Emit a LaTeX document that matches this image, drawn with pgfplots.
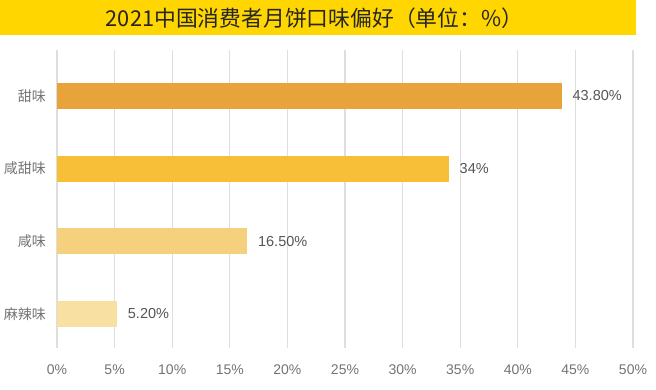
\documentclass[border=0pt]{standalone}
\usepackage{pgfplots}
\pgfplotsset{compat=1.18}
\usepackage{fontspec}
\setmainfont{Liberation Sans}
\newfontfamily\cjk{Noto Sans CJK SC}
\definecolor{c1}{RGB}{232,163,58}
\definecolor{c2}{RGB}{247,190,55}
\definecolor{c3}{RGB}{245,208,125}
\definecolor{c4}{RGB}{248,223,162}
\definecolor{titlebar}{RGB}{255,214,0}
\definecolor{gridc}{RGB}{222,222,222}
\definecolor{tickc}{RGB}{115,115,115}
\definecolor{valc}{RGB}{85,85,85}
\begin{document}
\begin{tikzpicture}
\fill[titlebar] (0pt,354pt) rectangle (636pt,389pt);
\node[text=black!85, font=\cjk\fontsize{21.8}{25}\selectfont] at (314.5pt,370.5pt) {2021中国消费者月饼口味偏好（单位：\%）};
\begin{axis}[
  at={(57pt,41pt)}, anchor=south west,
  scale only axis, width=576pt, height=298pt,
  xbar, bar width=26pt,
  xmin=0, xmax=50, ymin=-0.468, ymax=3.633,
  axis line style={draw=none},
  major tick length=0pt,
  xmajorgrids, grid style={gridc, line width=1.3pt},
  xtick={0,5,...,50},
  xticklabels={0\%,5\%,10\%,15\%,20\%,25\%,30\%,35\%,40\%,45\%,50\%},
  xticklabel style={text=tickc, font=\fontsize{14}{16}\selectfont, yshift=-13pt},
  ytick={0,1,2,3},
  yticklabels={麻辣味,咸味,咸甜味,甜味},
  yticklabel style={text=tickc, font=\cjk\fontsize{14}{16}\selectfont, xshift=-7.5pt},
  /pgf/number format/assume math mode=true,
  nodes near coords={\pgfmathprintnumber[fixed,fixed zerofill,precision=2]{\pgfplotspointmeta}\%},
  nodes near coords style={text=valc, font=\fontsize{14.5}{16}\selectfont, anchor=west, xshift=7.5pt},
  point meta=x,
  clip=false,
]
\addplot[fill=c1, draw=none, bar shift=0pt] coordinates {(43.8,3)};
\addplot[fill=c2, draw=none, bar shift=0pt, nodes near coords={\pgfmathprintnumber[fixed,precision=0]{\pgfplotspointmeta}\%}] coordinates {(34,2)};
\addplot[fill=c3, draw=none, bar shift=0pt] coordinates {(16.5,1)};
\addplot[fill=c4, draw=none, bar shift=0pt] coordinates {(5.2,0)};
\end{axis}
\pgfresetboundingbox
\useasboundingbox (0pt,0pt) rectangle (656pt,389pt);
\end{tikzpicture}
\end{document}
